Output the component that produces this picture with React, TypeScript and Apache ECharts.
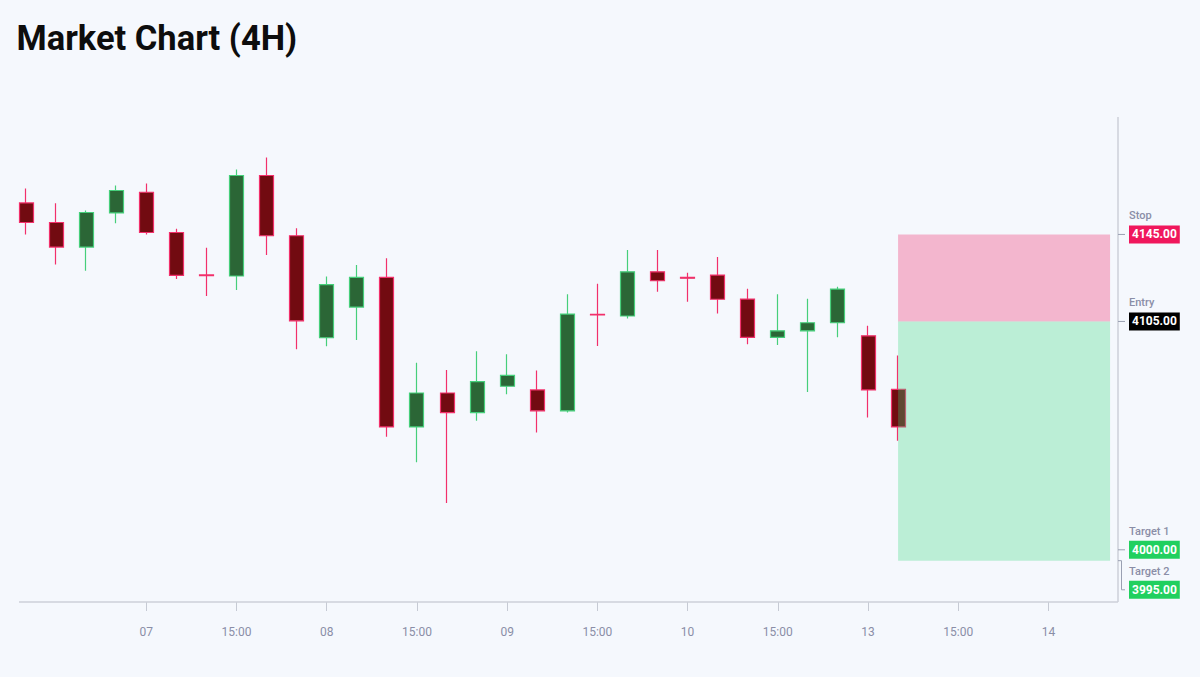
import React, { useEffect, useRef } from "react";
import * as echarts from "echarts";

// ---- data ----
const opens = [4159.5, 4150.5, 4139.2, 4154.9, 4164.4, 4145.9, 4126.4, 4125.9, 4172.1, 4144.4, 4097.5, 4111.6, 4125.3, 4056.5, 4072.1, 4063.1, 4075.2, 4073.5, 4063.9, 4108.3, 4107.5, 4127.8, 4125.3, 4126.3, 4115.3, 4097.7, 4100.7, 4104.4, 4098.4, 4073.8];
const closes = [4150.5, 4139.2, 4155.1, 4165.2, 4145.9, 4126.2, 4126.0, 4172.1, 4144.4, 4105.3, 4121.9, 4125.3, 4056.5, 4072.1, 4063.1, 4077.3, 4080.2, 4063.9, 4108.4, 4108.0, 4127.8, 4123.7, 4124.9, 4115.2, 4097.7, 4100.7, 4104.4, 4119.9, 4073.5, 4056.5];
const lows = [4145.0, 4131.2, 4128.3, 4150.1, 4145.0, 4124.5, 4116.7, 4119.4, 4135.6, 4092.2, 4093.6, 4096.5, 4052.0, 4040.3, 4021.5, 4059.3, 4071.5, 4053.9, 4063.1, 4093.7, 4106.4, 4118.6, 4114.1, 4108.7, 4094.5, 4094.2, 4072.6, 4097.7, 4060.8, 4050.1];
const highs = [4166.1, 4159.3, 4156.0, 4167.5, 4168.4, 4147.6, 4138.9, 4174.9, 4180.4, 4147.8, 4125.7, 4130.9, 4134.0, 4086.0, 4082.7, 4091.3, 4089.9, 4082.4, 4117.5, 4122.3, 4137.8, 4137.8, 4127.4, 4134.6, 4120.0, 4117.5, 4115.4, 4120.9, 4103.0, 4089.3];

const slotCount = 37; // 30 candles + 7 future slots
const tickIndices = [4, 7, 10, 13, 16, 19, 22, 25, 28, 31, 34];
const tickLabels = ["07", "15:00", "08", "15:00", "09", "15:00", "10", "15:00", "13", "15:00", "14"];

const levelNames = ["Stop", "Entry", "Target 1", "Target 2"];
const levelPrices = [4145, 4105, 4000, 3995];
const levelColors = ["#f0175c", "#000000", "#21d05f", "#21d05f"];

const zoneStartIndex = 29;
const zoneEndIndex = 36;

const yMin = 3976;
const yMax = 4199;

const App: React.FC = () => {
  const ref = useRef<HTMLDivElement>(null);

  useEffect(() => {
    document.body.style.margin = "0";
    if (!ref.current) return;
    const chart = echarts.init(ref.current, undefined, { renderer: "svg" });

    const categories = Array.from({ length: slotCount }, (_, i) => `slot${i}`);
    const labelMap: Record<number, string> = {};
    tickIndices.forEach((idx, k) => (labelMap[idx] = tickLabels[k]));
    const showTick = (index: number) => labelMap[index] !== undefined;

    const candleData = opens.map((o, i) => [o, closes[i], lows[i], highs[i]]);
    const zones = [
      [zoneStartIndex, zoneEndIndex, levelPrices[0], levelPrices[1]],
      [zoneStartIndex, zoneEndIndex, levelPrices[1], levelPrices[3]],
    ];
    const zoneColors = ["rgba(240, 30, 98, 0.3)", "rgba(52, 214, 126, 0.3)"];

    const gridLeft = 11;
    const gridTop = 117;
    const gridWidth = 1112.6;
    const gridHeight = 485;

    chart.setOption({
      animation: false,
      backgroundColor: "#f5f8fd",
      textStyle: { fontFamily: "Roboto" },
      grid: {
        left: gridLeft,
        top: gridTop,
        width: gridWidth,
        height: gridHeight,
        containLabel: false,
        outerBoundsMode: "none",
      },
      xAxis: {
        type: "category",
        data: categories,
        boundaryGap: true,
        axisLine: { show: false },
        axisTick: {
          show: true,
          alignWithLabel: true,
          interval: (index: number) => showTick(index),
          length: 9,
          lineStyle: { color: "#c6cad4", width: 1 },
        },
        axisLabel: {
          interval: (index: number) => showTick(index),
          formatter: (_v: string, index: number) => labelMap[index] ?? "",
          margin: 24,
          color: "#8a8ea7",
          fontSize: 12,
          fontFamily: "Roboto",
        },
        splitLine: { show: false },
      },
      yAxis: {
        type: "value",
        position: "right",
        min: yMin,
        max: yMax,
        axisLine: { show: false },
        axisTick: { show: false },
        axisLabel: { show: false },
        splitLine: { show: false },
      },
      series: [
        {
          type: "candlestick",
          data: candleData,
          barWidth: 14.5,
          z: 2,
          itemStyle: {
            color: "#2b6636",
            color0: "#720b11",
            borderColor: "#46cf7b",
            borderColor0: "#f2306b",
            borderWidth: 1.2,
          },
        },
        {
          type: "custom",
          z: 5,
          silent: true,
          data: zones,
          encode: { x: [0, 1], y: [2, 3] },
          renderItem: (params: any, api: any) => {
            const p0 = api.coord([api.value(0), api.value(2)]);
            const p1 = api.coord([api.value(1), api.value(3)]);
            return {
              type: "rect",
              shape: { x: p0[0], y: p0[1], width: p1[0] - p0[0] + 1.5, height: p1[1] - p0[1] },
              style: { fill: zoneColors[params.dataIndex] },
            };
          },
        },
      ],
    });

    const yOf = (v: number) => chart.convertToPixel({ yAxisIndex: 0 }, v) as number;
    const axisX = 1118;
    const axisLeft = 19;
    const labelX = 1129;
    const yBottom = yOf(yMin);
    const yTop = yOf(yMax);

    const graphics: any[] = [
      {
        type: "text",
        x: 16.5,
        y: 38,
        style: {
          text: "Market Chart (4H)",
          font: "bold 34.5px Roboto",
          fill: "#0d0d0d",
          verticalAlign: "middle",
          align: "left",
        },
      },
      {
        type: "line",
        shape: { x1: axisLeft, y1: yBottom, x2: axisX, y2: yBottom },
        style: { stroke: "#cdd1d9", lineWidth: 1.5 },
        z: 10,
      },
      {
        type: "line",
        shape: { x1: axisX, y1: yTop, x2: axisX, y2: yBottom },
        style: { stroke: "#cdd1d9", lineWidth: 1.5 },
        z: 10,
      },
    ];

    let prevBox = -Infinity;
    levelPrices.forEach((price, i) => {
      const py = yOf(price);
      const boxY = Math.max(py, prevBox + 40);
      prevBox = boxY;
      if (Math.abs(boxY - py) < 0.5) {
        graphics.push({
          type: "line",
          shape: { x1: axisX, y1: py, x2: axisX + 7, y2: py },
          style: { stroke: "#9aa0b2", lineWidth: 1 },
          z: 10,
        });
      } else {
        graphics.push({
          type: "polyline",
          shape: {
            points: [
              [axisX, py],
              [axisX + 3.5, py],
              [axisX + 3.5, boxY],
              [axisX + 7, boxY],
            ],
          },
          style: { stroke: "#9aa0b2", lineWidth: 1, fill: null },
          z: 10,
        });
      }
      graphics.push({
        type: "text",
        x: labelX,
        y: boxY - 18.5,
        z: 10,
        style: {
          text: levelNames[i],
          font: "500 11px Roboto",
          fill: "#8a8ea7",
          verticalAlign: "middle",
          align: "left",
        },
      });
      graphics.push({
        type: "text",
        x: labelX,
        y: boxY,
        z: 10,
        style: {
          text: price.toFixed(2),
          font: "bold 12px Roboto",
          fill: "#ffffff",
          backgroundColor: levelColors[i],
          padding: [3, 3, 3, 3],
          verticalAlign: "middle",
          align: "left",
        },
      });
    });

    chart.setOption({ graphic: graphics });

    return () => {
      chart.dispose();
    };
  }, []);

  return (
    <div
      ref={ref}
      style={{ width: 1200, height: 677, background: "#f5f8fd" }}
    />
  );
};

export default App;
